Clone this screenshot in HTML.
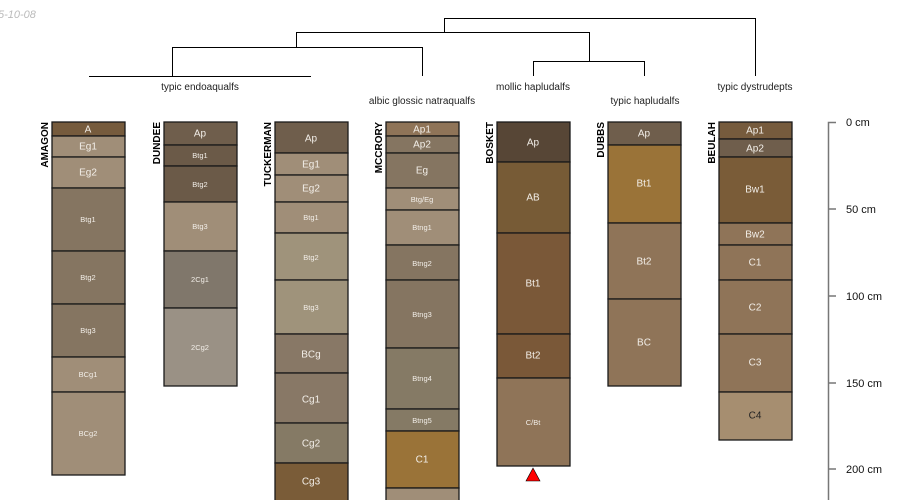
<!DOCTYPE html>
<html><head><meta charset="utf-8"><style>
html,body{margin:0;padding:0;background:#fff;width:900px;height:500px;overflow:hidden}
svg{display:block;font-family:"Liberation Sans",sans-serif}
.h{fill:#f2eee8;font-size:10px;text-anchor:middle;dominant-baseline:middle}
.s{font-size:7.5px}
.n{font-size:10px;font-weight:bold;fill:#000;text-anchor:end}
.l{font-size:10px;fill:#222;text-anchor:middle}
</style></head><body>
<svg width="900" height="500" viewBox="0 0 900 500">
<text x="-2" y="18" font-size="11" fill="#bbb" font-style="italic">5-10-08</text>
<g stroke="#000" stroke-width="1" fill="none">
<path d="M444.5 32V18.5H755.5V76"/>
<path d="M296.5 47V32.5H589.5V61"/>
<path d="M533.5 76V61.5H644.5V76"/>
<path d="M172.5 76V47.5H422.5V76"/>
<path d="M89 76.5H311"/>
</g>
<text class="l" x="200" y="90">typic endoaqualfs</text>
<text class="l" x="422" y="104">albic glossic natraqualfs</text>
<text class="l" x="533" y="90">mollic hapludalfs</text>
<text class="l" x="645" y="104">typic hapludalfs</text>
<text class="l" x="755" y="90">typic dystrudepts</text>
<g stroke="#1a1a1a" stroke-width="1.3">
<rect x="52" y="122" width="73" height="14" fill="#765b3d"/>
<rect x="52" y="136" width="73" height="21" fill="#a08e78"/>
<rect x="52" y="157" width="73" height="31" fill="#a08e78"/>
<rect x="52" y="188" width="73" height="63" fill="#857561"/>
<rect x="52" y="251" width="73" height="53" fill="#857561"/>
<rect x="52" y="304" width="73" height="53" fill="#857561"/>
<rect x="52" y="357" width="73" height="35" fill="#a08e78"/>
<rect x="52" y="392" width="73" height="83" fill="#a08e78"/>
<rect x="164" y="122" width="73" height="23" fill="#6f5e4c"/>
<rect x="164" y="145" width="73" height="21" fill="#6b5a48"/>
<rect x="164" y="166" width="73" height="36" fill="#6b5a48"/>
<rect x="164" y="202" width="73" height="49" fill="#a08e78"/>
<rect x="164" y="251" width="73" height="57" fill="#80776b"/>
<rect x="164" y="308" width="73" height="78" fill="#9a9185"/>
<rect x="275" y="122" width="73" height="31" fill="#6f5e4c"/>
<rect x="275" y="153" width="73" height="22" fill="#a08e78"/>
<rect x="275" y="175" width="73" height="27" fill="#a08e78"/>
<rect x="275" y="202" width="73" height="31" fill="#a08e78"/>
<rect x="275" y="233" width="73" height="47" fill="#9f937b"/>
<rect x="275" y="280" width="73" height="54" fill="#9f937b"/>
<rect x="275" y="334" width="73" height="39" fill="#887866"/>
<rect x="275" y="373" width="73" height="50" fill="#887866"/>
<rect x="275" y="423" width="73" height="40" fill="#857a65"/>
<rect x="275" y="463" width="73" height="40" fill="#7a5c38"/>
<rect x="386" y="122" width="73" height="14" fill="#8f7458"/>
<rect x="386" y="136" width="73" height="17" fill="#857561"/>
<rect x="386" y="153" width="73" height="35" fill="#857561"/>
<rect x="386" y="188" width="73" height="22" fill="#a08e78"/>
<rect x="386" y="210" width="73" height="35" fill="#a08e78"/>
<rect x="386" y="245" width="73" height="35" fill="#857561"/>
<rect x="386" y="280" width="73" height="68" fill="#857561"/>
<rect x="386" y="348" width="73" height="61" fill="#857a65"/>
<rect x="386" y="409" width="73" height="22" fill="#857a65"/>
<rect x="386" y="431" width="73" height="57" fill="#9a7338"/>
<rect x="386" y="488" width="73" height="20" fill="#a08e78"/>
<rect x="497" y="122" width="73" height="40" fill="#574636"/>
<rect x="497" y="162" width="73" height="71" fill="#775b36"/>
<rect x="497" y="233" width="73" height="101" fill="#7a5838"/>
<rect x="497" y="334" width="73" height="44" fill="#7a5838"/>
<rect x="497" y="378" width="73" height="88" fill="#8f7458"/>
<rect x="608" y="122" width="73" height="23" fill="#6f5e4c"/>
<rect x="608" y="145" width="73" height="78" fill="#9a7338"/>
<rect x="608" y="223" width="73" height="76" fill="#8f7458"/>
<rect x="608" y="299" width="73" height="87" fill="#8f7458"/>
<rect x="719" y="122" width="73" height="17" fill="#765b3d"/>
<rect x="719" y="139" width="73" height="18" fill="#6f5e4c"/>
<rect x="719" y="157" width="73" height="66" fill="#7a5c38"/>
<rect x="719" y="223" width="73" height="22" fill="#8f7458"/>
<rect x="719" y="245" width="73" height="35" fill="#8f7458"/>
<rect x="719" y="280" width="73" height="54" fill="#8f7458"/>
<rect x="719" y="334" width="73" height="58" fill="#8f7458"/>
<rect x="719" y="392" width="73" height="48" fill="#a68e70"/>
</g>
<g class="h">
<text x="88" y="130">A</text><text x="88" y="147">Eg1</text><text x="88" y="173">Eg2</text>
<text class="s" x="88" y="220">Btg1</text><text class="s" x="88" y="278">Btg2</text><text class="s" x="88" y="331">Btg3</text>
<text class="s" x="88" y="375">BCg1</text><text class="s" x="88" y="434">BCg2</text>
<text x="200" y="134">Ap</text><text class="s" x="200" y="156">Btg1</text><text class="s" x="200" y="185">Btg2</text>
<text class="s" x="200" y="227">Btg3</text><text class="s" x="200" y="280">2Cg1</text><text class="s" x="200" y="348">2Cg2</text>
<text x="311" y="139">Ap</text><text x="311" y="165">Eg1</text><text x="311" y="189">Eg2</text>
<text class="s" x="311" y="218">Btg1</text><text class="s" x="311" y="258">Btg2</text><text class="s" x="311" y="308">Btg3</text>
<text x="311" y="355">BCg</text><text x="311" y="400">Cg1</text><text x="311" y="444">Cg2</text><text x="311" y="482">Cg3</text>
<text x="422" y="130">Ap1</text><text x="422" y="145">Ap2</text><text x="422" y="171">Eg</text>
<text class="s" x="422" y="200">Btg/Eg</text><text class="s" x="422" y="228">Btng1</text><text class="s" x="422" y="264">Btng2</text>
<text class="s" x="422" y="315">Btng3</text><text class="s" x="422" y="379">Btng4</text><text class="s" x="422" y="421">Btng5</text>
<text x="422" y="460">C1</text>
<text x="533" y="143">Ap</text><text x="533" y="198">AB</text><text x="533" y="284">Bt1</text><text x="533" y="356">Bt2</text>
<text class="s" x="533" y="423">C/Bt</text>
<text x="644" y="134">Ap</text><text x="644" y="184">Bt1</text><text x="644" y="262">Bt2</text><text x="644" y="343">BC</text>
<text x="755" y="131">Ap1</text><text x="755" y="149">Ap2</text><text x="755" y="190">Bw1</text><text x="755" y="235">Bw2</text>
<text x="755" y="263">C1</text><text x="755" y="308">C2</text><text x="755" y="363">C3</text><text x="755" y="416" fill="#222">C4</text>
</g>
<g class="n">
<text transform="translate(48 122) rotate(-90)">AMAGON</text>
<text transform="translate(160 122) rotate(-90)">DUNDEE</text>
<text transform="translate(271 122) rotate(-90)">TUCKERMAN</text>
<text transform="translate(382 122) rotate(-90)">MCCRORY</text>
<text transform="translate(493 122) rotate(-90)">BOSKET</text>
<text transform="translate(604 122) rotate(-90)">DUBBS</text>
<text transform="translate(715 122) rotate(-90)">BEULAH</text>
</g>
<polygon points="533,468 526,481 540,481" fill="#f00" stroke="#000" stroke-width="0.6"/>
<g stroke="#777" stroke-width="1.5" fill="none">
<path d="M828.5 500V122.5H836"/>
<path d="M828 209H836M828 296H836M828 383H836M828 469H836"/>
</g>
<g font-size="11" fill="#111">
<text x="846" y="126">0 cm</text><text x="846" y="213">50 cm</text><text x="846" y="300">100 cm</text>
<text x="846" y="387">150 cm</text><text x="846" y="473">200 cm</text>
</g>
</svg>
</body></html>
